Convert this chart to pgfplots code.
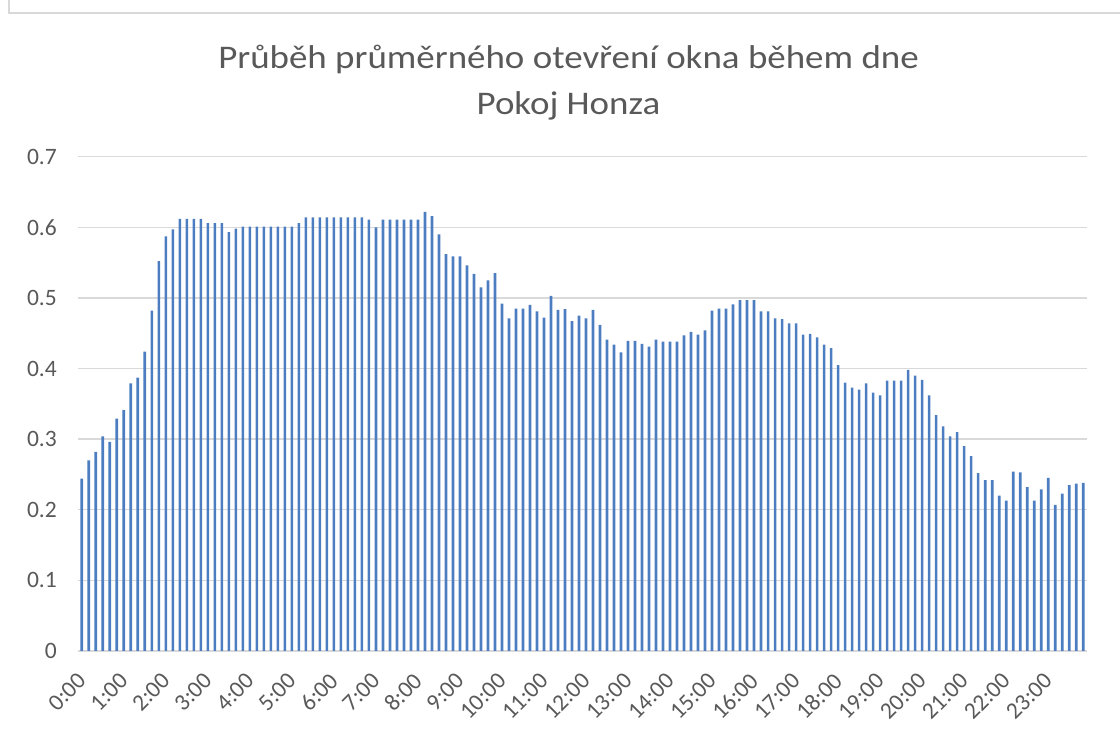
\documentclass[border=0pt]{standalone}
\usepackage{fontspec}
\setmainfont{Carlito}
\usepackage{graphicx}
\usepackage{pgfplots}
\usepackage{pgfplotstable}
\pgfplotsset{compat=1.18}
\definecolor{barblue}{RGB}{76,125,192}
\definecolor{gridgray}{RGB}{217,217,217}
\definecolor{txtgray}{RGB}{89,89,89}
\pgfplotstableread{
x y
0 0.244
1 0.270
2 0.282
3 0.304
4 0.296
5 0.329
6 0.341
7 0.379
8 0.387
9 0.424
10 0.482
11 0.552
12 0.587
13 0.597
14 0.612
15 0.612
16 0.612
17 0.612
18 0.606
19 0.606
20 0.606
21 0.593
22 0.598
23 0.601
24 0.601
25 0.601
26 0.601
27 0.601
28 0.601
29 0.601
30 0.601
31 0.606
32 0.614
33 0.614
34 0.614
35 0.614
36 0.614
37 0.614
38 0.614
39 0.614
40 0.614
41 0.611
42 0.600
43 0.611
44 0.611
45 0.611
46 0.611
47 0.611
48 0.611
49 0.622
50 0.616
51 0.590
52 0.562
53 0.559
54 0.559
55 0.546
56 0.534
57 0.515
58 0.525
59 0.535
60 0.492
61 0.471
62 0.485
63 0.485
64 0.490
65 0.481
66 0.472
67 0.503
68 0.483
69 0.484
70 0.467
71 0.475
72 0.471
73 0.483
74 0.462
75 0.441
76 0.434
77 0.423
78 0.439
79 0.439
80 0.435
81 0.431
82 0.441
83 0.438
84 0.438
85 0.438
86 0.447
87 0.452
88 0.448
89 0.454
90 0.482
91 0.485
92 0.485
93 0.491
94 0.497
95 0.497
96 0.497
97 0.481
98 0.481
99 0.471
100 0.470
101 0.464
102 0.464
103 0.448
104 0.449
105 0.444
106 0.434
107 0.429
108 0.405
109 0.380
110 0.373
111 0.370
112 0.379
113 0.366
114 0.362
115 0.383
116 0.383
117 0.383
118 0.398
119 0.390
120 0.384
121 0.362
122 0.334
123 0.318
124 0.304
125 0.310
126 0.290
127 0.276
128 0.252
129 0.242
130 0.242
131 0.220
132 0.213
133 0.254
134 0.253
135 0.232
136 0.213
137 0.229
138 0.245
139 0.207
140 0.223
141 0.235
142 0.237
143 0.238
}\data
\begin{document}
\begin{tikzpicture}[x=1bp,y=1bp]
\path[use as bounding box] (0,0) rectangle (1120,734);
\draw[gridgray, line width=1.3bp] (9,734) -- (9,721) -- (1120,721);
\node[anchor=base, text=txtgray, inner sep=0pt, font=\fontsize{33bp}{40bp}\selectfont] at (568.5,665) {\scalebox{1.12}[1]{Průběh průměrného otevření okna během dne}};
\node[anchor=base, text=txtgray, inner sep=0pt, font=\fontsize{33bp}{40bp}\selectfont] at (568.5,619) {\scalebox{1.12}[1]{Pokoj Honza}};
\begin{axis}[
  at={(78.3bp,83bp)}, anchor=south west,
  scale only axis, width=1008.4bp, height=494.3bp,
  xmin=-0.5, xmax=143.5, ymin=0, ymax=0.7,
  ybar, bar width=0.38,
  axis line style={draw=none},
  major tick length=0pt,
  ymajorgrids, grid style={draw=gridgray, line width=1.3bp},
  ytick={0,0.1,0.2,0.3,0.4,0.5,0.6,0.7},
  yticklabels={0,0.1,0.2,0.3,0.4,0.5,0.6,0.7},
  xtick={0,6,...,138},
  xticklabels={0:00,1:00,2:00,3:00,4:00,5:00,6:00,7:00,8:00,9:00,10:00,11:00,12:00,13:00,14:00,15:00,16:00,17:00,18:00,19:00,20:00,21:00,22:00,23:00},
  ticklabel style={font=\fontsize{23.5bp}{28bp}\selectfont, text=txtgray, inner sep=0pt},
  yticklabel style={anchor=east, xshift=-21.3bp},
  xticklabel style={yshift=-26bp, rotate=45, anchor=east},
  /pgf/number format/assume math mode=true,
]
\addplot[fill=barblue, draw=none] table[x=x,y=y]{\data};
\end{axis}
\end{tikzpicture}
\end{document}
